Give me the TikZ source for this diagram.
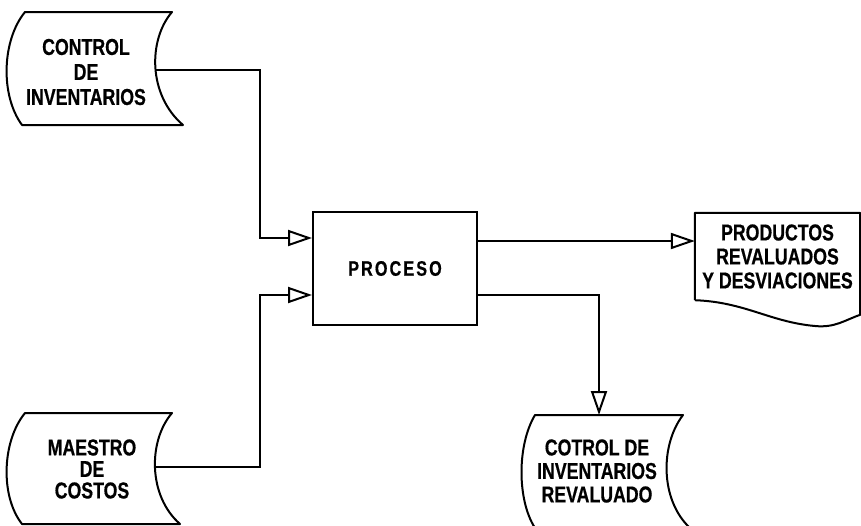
\documentclass[tikz,border=0pt]{standalone}
\usepackage{fontspec}
\newfontfamily\flowfont[FakeStretch=0.77, FakeBold=0.6]{Liberation Sans Bold}
\usepackage{tikz}
\usetikzlibrary{arrows.meta, positioning}
\tikzset{
  outline/.style={line width=2pt, line join=round},
  flow/.style={line width=2pt, -{Triangle[open, length=24pt, width=16pt, fill=white]}},
  label/.style={font=\flowfont\fontsize{23}{24}\selectfont, align=center, inner sep=0pt}
}

\begin{document}
\begin{tikzpicture}[x=1pt, y=-1pt]
\clip (0,0) rectangle (861,525);
\fill[white] (0,0) rectangle (861,525);
\draw[outline] (25,12) -- (172,12) .. controls (148,40) and (148,95) .. (183,125)
  -- (22,125) .. controls (0,95) and (2,40) .. (25,12) -- cycle;
\node[label, font=\flowfont\fontsize{23}{25}\selectfont] (ctrlinv) at (86,72) {CONTROL\\DE\\INVENTARIOS};
\coordinate (ctrlinv-out) at (155,70);
\draw[outline] (25,413) -- (172,413) .. controls (148,441) and (148,496) .. (180,524)
  -- (22,524) .. controls (0,496) and (2,441) .. (25,413) -- cycle;
\node[label, font=\flowfont\fontsize{23}{21.5}\selectfont] (maestro) at (92,469) {MAESTRO\\DE\\COSTOS};
\coordinate (maestro-out) at (155,467);
\node[draw, line width=2pt, minimum width=164pt, minimum height=113pt,
  font=\flowfont\addfontfeature{LetterSpace=10}\fontsize{21}{24}\selectfont] (proceso) at (395,268.5) {PROCESO};
\node[minimum width=165pt, minimum height=87pt, inner sep=0pt] (productos) at (777.5,256.5) {};
\node[label] at (productos.center) {PRODUCTOS\\REVALUADOS\\Y DESVIACIONES};
\draw[outline] (productos.south west) -- (productos.north west) -- (productos.north east) -- ++(0,102)
  .. controls (845,320) and (835,328) .. (815,326) .. controls (770,322) and (745,302) .. (productos.south west);
\draw[outline] (535,415) -- (683,415) .. controls (660,445) and (660,500) .. (690,528)
  -- (535,528) .. controls (517,500) and (517,445) .. (535,415) -- cycle;
\node[label, font=\flowfont\fontsize{23}{23.5}\selectfont] (ctrlrev) at (597,471) {COTROL DE\\INVENTARIOS\\REVALUADO};
\coordinate (ctrlrev-in) at (599,415);
\coordinate (in1) at ([yshift=30.5pt]proceso.west);
\coordinate (in2) at ([yshift=-26.5pt]proceso.west);
\coordinate (out1) at ([yshift=27.5pt]proceso.east);
\coordinate (out2) at ([yshift=-26.5pt]proceso.east);
\draw[flow] (ctrlinv-out) -- ++(105,0) |- (in1);
\draw[flow] (maestro-out) -- ++(105,0) |- (in2);
\draw[flow] (out1) -- (out1 -| productos.west);
\draw[flow] (out2) -| (ctrlrev-in);
\end{tikzpicture}
\end{document}
